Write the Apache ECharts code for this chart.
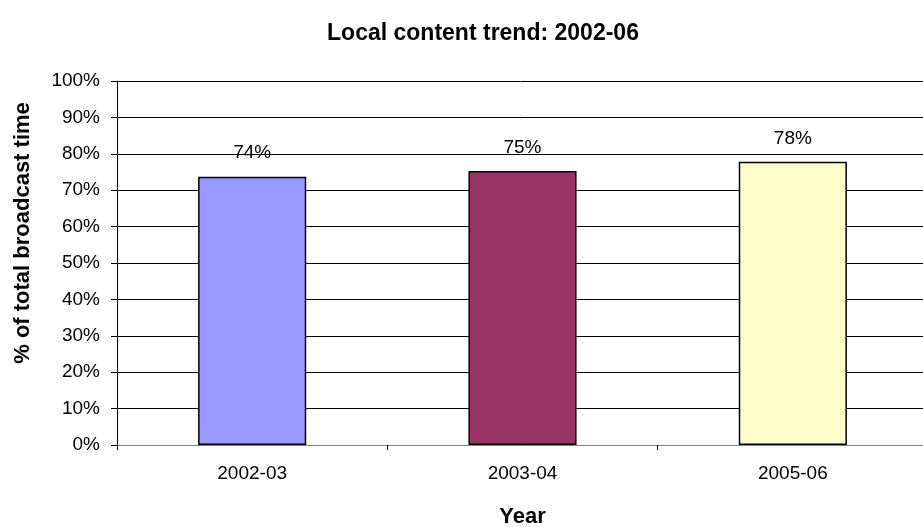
<!DOCTYPE html>
<html>
<head>
<meta charset="utf-8">
<script src="https://cdn.jsdelivr.net/npm/echarts@6/dist/echarts.min.js"></script>
<style>
  html, body { margin: 0; padding: 0; background: #fff; }
  #chart { width: 923px; height: 527px; }
</style>
</head>
<body>
<div id="chart"></div>
<script>
// Share of broadcast time given to local content, by financial year
const years = ['2002-03', '2003-04', '2005-06'];
const localShare = [73.7, 75.3, 77.8];
const barColors = ['#9999FF', '#993366', '#FFFFCC'];
const yTicks = [0, 10, 20, 30, 40, 50, 60, 70, 80, 90, 100];

const FONT = '"Liberation Sans", Arial, sans-serif';

const chart = echarts.init(document.getElementById('chart'), null, { renderer: 'canvas' });

chart.setOption({
  animation: false,
  backgroundColor: '#ffffff',
  textStyle: { fontFamily: FONT },
  title: {
    text: 'Local content trend: 2002-06',
    left: 478,
    top: 17,
    textAlign: 'center',
    textStyle: { fontFamily: FONT, fontSize: 23, fontWeight: 'bold', color: '#000' }
  },
  // vertical axis title, set a little above the middle of the plot
  graphic: [{
    type: 'text',
    x: 23,
    y: 233,
    rotation: Math.PI / 2,
    style: {
      text: '% of total broadcast time',
      fontFamily: FONT,
      fontSize: 22,
      fontWeight: 'bold',
      fill: '#000',
      align: 'center',
      verticalAlign: 'middle'
    }
  }],
  // the plot runs a few pixels past the right edge of the canvas
  grid: { left: 117, top: 81, width: 811, height: 364, outerBoundsMode: 'none', containLabel: false },
  xAxis: {
    type: 'category',
    data: years,
    name: 'Year',
    nameLocation: 'middle',
    nameGap: 61,
    nameTextStyle: { fontFamily: FONT, fontSize: 22, fontWeight: 'bold', color: '#000' },
    axisLine: { show: true, lineStyle: { color: '#808080', width: 1 } },
    axisTick: { show: true, length: 5, lineStyle: { color: '#000' } },
    axisLabel: { fontFamily: FONT, fontSize: 19, color: '#000', margin: 19 },
    splitLine: { show: false }
  },
  yAxis: {
    type: 'value',
    min: yTicks[0],
    max: yTicks[yTicks.length - 1],
    interval: yTicks[1] - yTicks[0],
    axisLine: { show: true, lineStyle: { color: '#000', width: 1 } },
    axisTick: { show: true, length: 6, inside: false, lineStyle: { color: '#000' } },
    axisLabel: {
      fontFamily: FONT, fontSize: 19, color: '#000', margin: 17,
      formatter: v => v + '%'
    },
    splitLine: { show: true, lineStyle: { color: '#000', width: 1 } }
  },
  series: [{
    type: 'bar',
    data: localShare.map((v, i) => ({
      value: v,
      itemStyle: { color: barColors[i], borderColor: '#000', borderWidth: 1.5 }
    })),
    barWidth: '40%',
    label: {
      show: true,
      position: 'top',
      distance: 14,
      fontFamily: FONT,
      fontSize: 19,
      color: '#000',
      formatter: p => Math.round(p.value) + '%'
    }
  }]
});
</script>
</body>
</html>
